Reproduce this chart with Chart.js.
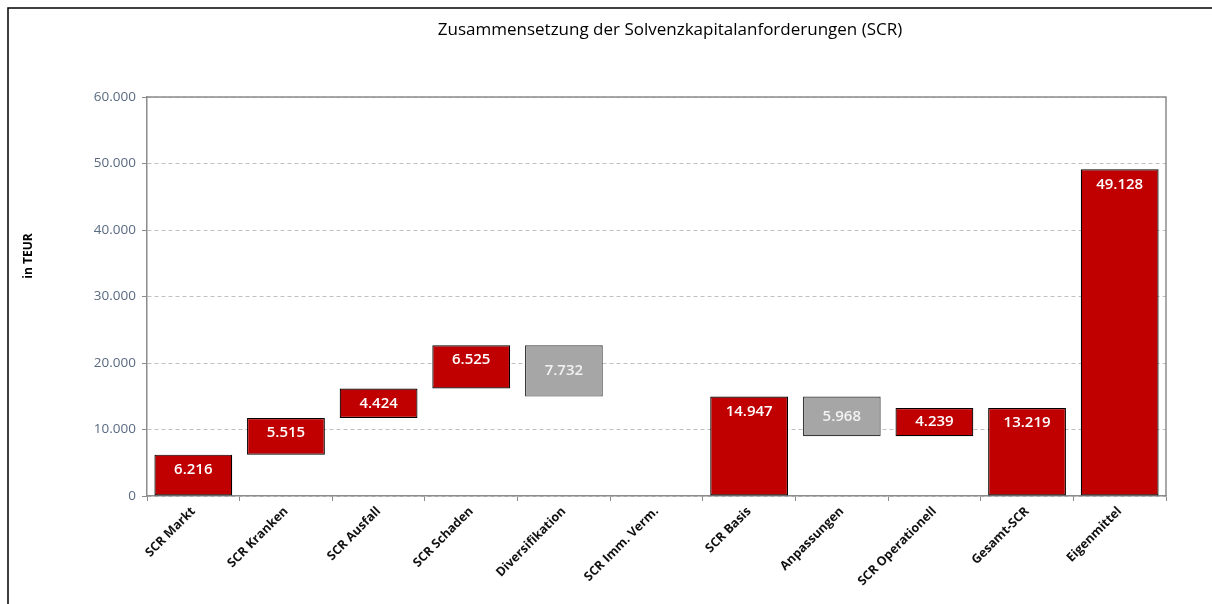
<!DOCTYPE html>
<html>
<head>
<meta charset="utf-8">
<script src="https://cdn.jsdelivr.net/npm/chart.js@4.4.1/dist/chart.umd.min.js"></script>
<style>
  html, body { margin: 0; padding: 0; background: #fff; }
  #wrap { width: 1212px; height: 604px; position: relative; }
</style>
</head>
<body>
<div id="wrap"><canvas id="chart"></canvas></div>
<script>
const chartTitle = 'Zusammensetzung der Solvenzkapitalanforderungen (SCR)';
const axisTitle = 'in TEUR';
const categories = ['SCR Markt', 'SCR Kranken', 'SCR Ausfall', 'SCR Schaden', 'Diversifikation',
  'SCR Imm. Verm.', 'SCR Basis', 'Anpassungen', 'SCR Operationell', 'Gesamt-SCR', 'Eigenmittel'];
const values = [6216, 5515, 4424, 6525, 7732, 0, 14947, 5968, 4239, 13219, 49128];
// up = adds to running sum, down = subtracts, total = bar from zero
const steps = ['up', 'up', 'up', 'up', 'down', 'up', 'total', 'down', 'up', 'total', 'total'];
const yTicks = [0, 10000, 20000, 30000, 40000, 50000, 60000];

const RED = '#c00000';
const GREY = '#a6a6a6';

function fmt(v) {
  return String(v).replace(/\B(?=(\d{3})+(?!\d))/g, '.');
}

// floating bars from the running total
let running = 0;
const ranges = values.map((v, i) => {
  let r;
  if (steps[i] === 'total') { running = v; r = [0, v]; }
  else if (steps[i] === 'down') { r = [running - v, running]; running -= v; }
  else { r = [running, running + v]; running += v; }
  return v === 0 ? null : r;
});

const frameAndText = {
  id: 'frameAndText',
  beforeDraw(chart) {
    const ctx = chart.ctx;
    ctx.save();
    ctx.strokeStyle = '#000';
    ctx.lineWidth = 1.5;
    ctx.beginPath();
    ctx.moveTo(8, 604);
    ctx.lineTo(8, 8);
    ctx.lineTo(1212, 8);
    ctx.stroke();

    ctx.fillStyle = '#000';
    ctx.font = '17px "Open Sans"';
    ctx.textAlign = 'center';
    ctx.textBaseline = 'middle';
    ctx.fillText(chartTitle, 670, 30);

    ctx.translate(29, 256);
    ctx.rotate(-Math.PI / 2);
    ctx.font = 'bold 12px "Open Sans"';
    ctx.fillText(axisTitle, 0, 0);
    ctx.restore();
  },
  afterDraw(chart) {
    const a = chart.chartArea;
    const ctx = chart.ctx;
    ctx.save();
    ctx.strokeStyle = '#8c8c8c';
    ctx.lineWidth = 1.5;
    ctx.beginPath();
    ctx.moveTo(a.left, a.top);
    ctx.lineTo(a.right, a.top);
    ctx.lineTo(a.right, a.bottom);
    ctx.stroke();
    ctx.restore();
  }
};

const barLabels = {
  id: 'barLabels',
  afterDatasetsDraw(chart) {
    const ctx = chart.ctx;
    const meta = chart.getDatasetMeta(0);
    ctx.save();
    ctx.font = '600 15px "Open Sans"';
    ctx.textAlign = 'center';
    ctx.textBaseline = 'middle';
    meta.data.forEach((bar, i) => {
      if (!values[i]) return;
      const p = bar.getProps(['x', 'y', 'base'], true);
      const top = Math.min(p.y, p.base);
      const bottom = Math.max(p.y, p.base);
      const mid = (top + bottom) / 2;
      let y;
      if (steps[i] === 'down') {
        ctx.fillStyle = '#f2f2f2';
        y = mid;
      } else {
        ctx.fillStyle = '#fff';
        y = Math.min(top + 15, mid);
      }
      ctx.fillText(fmt(values[i]), p.x, y);
    });
    ctx.restore();
  }
};

new Chart(document.getElementById('chart'), {
  type: 'bar',
  data: {
    labels: categories,
    datasets: [{
      data: ranges,
      backgroundColor: steps.map(s => s === 'down' ? GREY : RED),
      borderColor: steps.map(s => s === 'down' ? '#3a3a3a' : '#000'),
      borderWidth: 1.2,
      borderSkipped: false,
      barPercentage: 0.84,
      categoryPercentage: 1
    }]
  },
  options: {
    responsive: true,
    maintainAspectRatio: false,
    animation: false,
    layout: { padding: { top: 97, right: 46, left: 0, bottom: 0 } },
    plugins: {
      legend: { display: false },
      title: { display: false },
      tooltip: { enabled: false }
    },
    scales: {
      x: {
        afterFit(scale) { scale.height = 108; },
        grid: {
          display: true,
          drawOnChartArea: false,
          offset: true,
          tickLength: 5,
          tickColor: '#8c8c8c'
        },
        border: { color: '#8c8c8c', width: 1.5 },
        ticks: {
          maxRotation: 45,
          minRotation: 45,
          color: '#111',
          font: { family: 'Open Sans', size: 12.5, weight: 'bold' }
        }
      },
      y: {
        min: 0,
        max: 60000,
        afterFit(scale) { scale.width = 147; },
        afterBuildTicks(scale) { scale.ticks = yTicks.map(v => ({ value: v })); },
        grid: {
          color: '#c0c0c0',
          tickLength: 5,
          tickColor: '#8c8c8c'
        },
        border: { color: '#8c8c8c', width: 1.5, dash: [4, 3] },
        ticks: {
          padding: 6,
          color: '#5a6a80',
          font: { family: 'Open Sans', size: 13.5 },
          callback: v => fmt(v)
        }
      }
    }
  },
  plugins: [frameAndText, barLabels]
});
</script>
</body>
</html>
